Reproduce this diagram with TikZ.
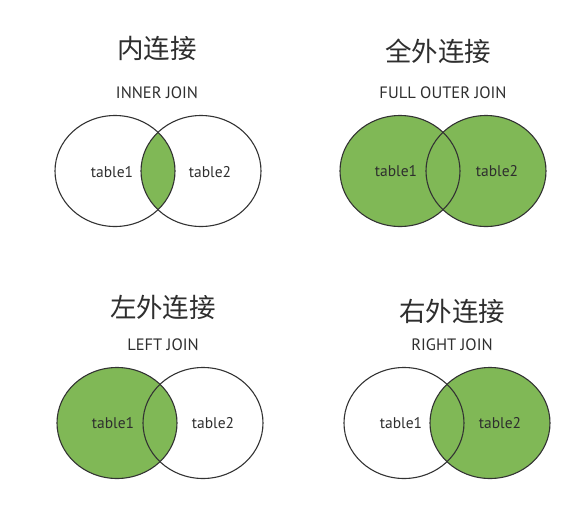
\documentclass[tikz,border=0pt]{standalone}
\usepackage{fontspec}
\setmainfont{PT Sans}
\newfontfamily\cjk{Noto Sans CJK SC}
\definecolor{joingreen}{HTML}{80B856}
\definecolor{edgegray}{HTML}{333333}
\definecolor{textgray}{HTML}{2E2E2E}

\begin{document}
\begin{tikzpicture}[x=1pt, y=-1pt,
    title/.style={font=\cjk\fontsize{26.5}{30}\selectfont, text=textgray},
    subtitle/.style={font=\fontsize{16.5}{19}\selectfont, text=textgray},
    tablename/.style={font=\fontsize{15.5}{18}\selectfont, text=textgray},
    setline/.style={draw=edgegray, line width=1.1pt},
    setfill/.style={fill=joingreen},
    rr/.style={x radius=60pt, y radius=55.5pt}
]
    \useasboundingbox (0,0) rectangle (574,507);

    % centres of the circles
    \coordinate (inA)    at (115,171);
    \coordinate (inB)    at (201,171);
    \coordinate (fullA)  at (400,171);
    \coordinate (fullB)  at (486,171);
    \coordinate (leftA)  at (117,423);
    \coordinate (leftB)  at (203,423);
    \coordinate (rightA) at (404,423);
    \coordinate (rightB) at (490,423);

    % titles
    \node[title]    (inT)     at (157,48)  {内连接};
    \node[subtitle] (inS)     at (157,93)  {INNER JOIN};
    \node[title]    (fullT)   at (438,51)  {全外连接};
    \node[subtitle] (fullS)   at (443,93)  {FULL OUTER JOIN};
    \node[title]    (leftT)   at (163,307) {左外连接};
    \node[subtitle] (leftS)   at (163,345) {LEFT JOIN};
    \node[title]    (rightT)  at (452,311) {右外连接};
    \node[subtitle] (rightS)  at (452,345) {RIGHT JOIN};

    % inner join
    \begin{scope}
        \clip (inA) ellipse[rr];
        \fill[setfill] (inB) ellipse[rr];
    \end{scope}
    \draw[setline] (inA) ellipse[rr];
    \draw[setline] (inB) ellipse[rr];

    % full outer join
    \fill[setfill] (fullA) ellipse[rr];
    \fill[setfill] (fullB) ellipse[rr];
    \draw[setline] (fullA) ellipse[rr];
    \draw[setline] (fullB) ellipse[rr];

    % left join
    \fill[setfill] (leftA) ellipse[rr];
    \draw[setline] (leftA) ellipse[rr];
    \draw[setline] (leftB) ellipse[rr];

    % right join
    \fill[setfill] (rightB) ellipse[rr];
    \draw[setline] (rightA) ellipse[rr];
    \draw[setline] (rightB) ellipse[rr];

    % table names
    \node[tablename] (inL)    at (112,172) {table1};
    \node[tablename] (inR)    at (210,172) {table2};
    \node[tablename] (fullL)  at (396,171) {table1};
    \node[tablename] (fullR)  at (497,171) {table2};
    \node[tablename] (leftL)  at (113,423) {table1};
    \node[tablename] (leftR)  at (213,423) {table2};
    \node[tablename] (rightL) at (401,423) {table1};
    \node[tablename] (rightR) at (500,423) {table2};
\end{tikzpicture}
\end{document}
